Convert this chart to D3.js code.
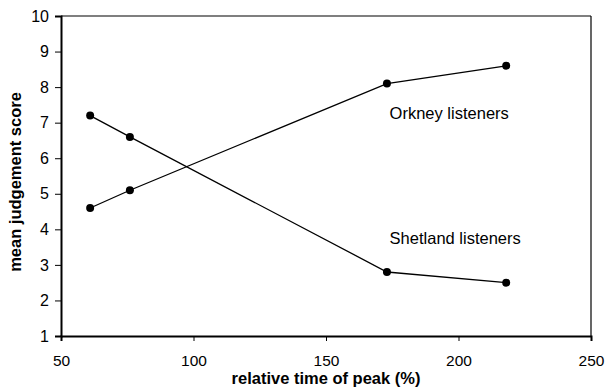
<!DOCTYPE html>
<html>
<head>
<meta charset="utf-8">
<script src="https://cdn.jsdelivr.net/npm/d3@7"></script>
<style>
  body { margin: 0; background: #fff; }
  text { font-family: Arial, "Liberation Sans", sans-serif; fill: #000; }
</style>
</head>
<body>
<div id="chart"></div>
<script>
    // data
    var peakTime = [61, 76, 173, 218];
    var orkneyScores = [4.6, 5.1, 8.1, 8.6];
    var shetlandScores = [7.2, 6.6, 2.8, 2.5];
    var xTicks = [50, 100, 150, 200, 250];
    var yTicks = [1, 2, 3, 4, 5, 6, 7, 8, 9, 10];
    var seriesLabels = [
        { name: "Orkney listeners", x: 174, y: 7.1 },
        { name: "Shetland listeners", x: 174, y: 3.58 }
    ];

    // set the dimensions and margins of the graph
    var margin = { top: 16, right: 14, bottom: 54, left: 61 },
        width = 605 - margin.left - margin.right,
        height = 390 - margin.top - margin.bottom;

    var svg = d3.select("#chart")
        .append("svg")
        .attr("width", 605)
        .attr("height", 390)
        .append("g")
        .attr("transform", "translate(" + margin.left + "," + margin.top + ")");

    var x = d3.scaleLinear().domain([50, 250]).range([0, width]);
    var y = d3.scaleLinear().domain([1, 10]).range([height, 0]);

    // thin top and right frame lines
    svg.append("line")
        .attr("x1", 0).attr("x2", width).attr("y1", 0).attr("y2", 0)
        .attr("stroke", "#000").attr("stroke-width", 1.2);
    svg.append("line")
        .attr("x1", width).attr("x2", width).attr("y1", 0).attr("y2", height)
        .attr("stroke", "#000").attr("stroke-width", 1.2);

    // X axis
    var gx = svg.append("g")
        .attr("transform", "translate(0," + height + ")")
        .call(d3.axisBottom(x).tickValues(xTicks).tickSize(5).tickPadding(14));
    gx.select(".domain").attr("stroke-width", 2);
    gx.selectAll("text").style("font-size", "15.5px").attr("fill", "#000");

    // Y axis
    var gy = svg.append("g")
        .call(d3.axisLeft(y).tickValues(yTicks).tickSize(6).tickPadding(6));
    gy.select(".domain").attr("stroke-width", 2);
    gy.selectAll("text").style("font-size", "16px").attr("fill", "#000");

    // axis titles
    svg.append("text")
        .attr("x", x(150))
        .attr("y", height + 48)
        .attr("text-anchor", "middle")
        .style("font-size", "16.5px")
        .style("font-weight", "bold")
        .text("relative time of peak (%)");

    svg.append("text")
        .attr("transform", "translate(" + (21 - margin.left) + "," + (182 - margin.top) + ") rotate(-90)")
        .attr("text-anchor", "middle")
        .style("font-size", "16.5px")
        .style("font-weight", "bold")
        .text("mean judgement score");

    var line = d3.line()
        .x(function(d) { return x(d[0]); })
        .y(function(d) { return y(d[1]); });

    [orkneyScores, shetlandScores].forEach(function(scores) {
        var pts = peakTime.map(function(t, i) { return [t, scores[i]]; });
        svg.append("path")
            .datum(pts)
            .attr("fill", "none")
            .attr("stroke", "#000")
            .attr("stroke-width", 1.3)
            .attr("d", line);
        svg.selectAll(null)
            .data(pts)
            .enter()
            .append("circle")
            .attr("cx", function(d) { return x(d[0]); })
            .attr("cy", function(d) { return y(d[1]); })
            .attr("r", 4)
            .attr("fill", "#000");
    });

    // series labels
    svg.selectAll(null)
        .data(seriesLabels)
        .enter()
        .append("text")
        .attr("x", function(d) { return x(d.x); })
        .attr("y", function(d) { return y(d.y); })
        .style("font-size", "16.5px")
        .text(function(d) { return d.name; });
</script>
</body>
</html>
